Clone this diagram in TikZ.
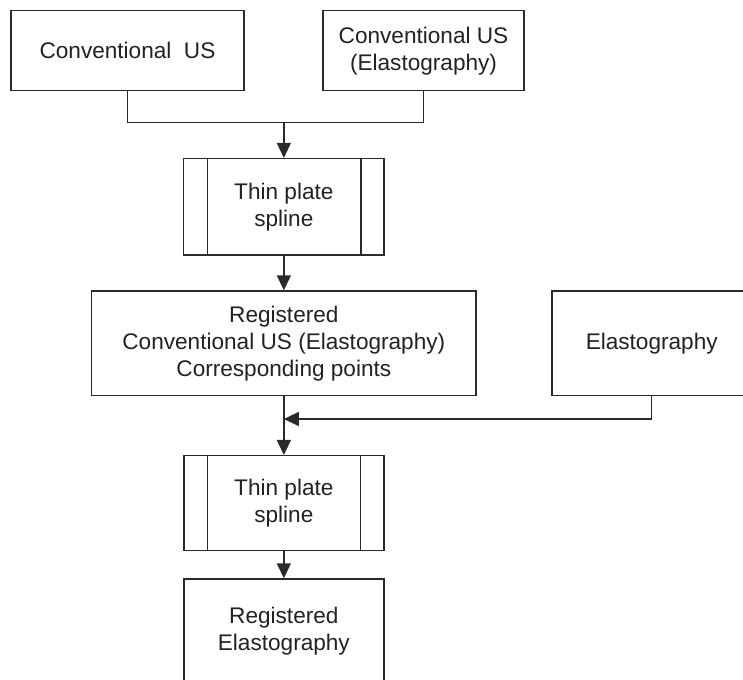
\documentclass[tikz,border=0pt]{standalone}
\usepackage{fontspec}
\setmainfont{Liberation Sans}
\usetikzlibrary{arrows.meta}
\definecolor{ln}{HTML}{2A2A2A}
\definecolor{tx}{HTML}{222222}
\begin{document}
\begin{tikzpicture}[x=1pt,y=-1pt,
  box/.style={draw=ln,line width=1.5pt,rectangle,inner sep=0pt,align=center,
    text=tx,font=\fontsize{22.6}{27}\selectfont},
  arr/.style={draw=ln,line width=1.5pt,-{Triangle[length=15pt,width=14pt]}},
  con/.style={draw=ln,line width=1.5pt}]
\useasboundingbox (0,0) rectangle (743,679);
\clip (0,0) rectangle (743,679);
\fill[white] (0,0) rectangle (743,679);
\node[box,minimum width=233pt,minimum height=80pt] (b1) at (127.5,50.7) {Conventional\ \ US};
\node[box,minimum width=201pt,minimum height=80pt] (b2) at (423.5,50.7) {Conventional US\\(Elastography)};
\node[box,minimum width=200.3pt,minimum height=96.3pt] (b3) at (283.85,206.8) {Thin plate\\spline};
\node[box,minimum width=384.3pt,minimum height=104.3pt] (b4) at (283.85,343.2) {Registered\\Conventional US (Elastography)\\Corresponding points};
\node[box,minimum width=199.4pt,minimum height=104.3pt] (b5) at (651.7,343.2) {Elastography};
\node[box,minimum width=200pt,minimum height=95pt] (b6) at (283.85,503.2) {Thin plate\\spline};
\node[box,minimum width=200pt,minimum height=104pt] (b7) at (283.85,631) {Registered\\Elastography};
\foreach \n in {b3,b6}{
  \draw[con] ([xshift=24.3pt]\n.north west) -- ([xshift=24.3pt]\n.south west);
  \draw[con] ([xshift=-24pt]\n.north east) -- ([xshift=-24pt]\n.south east);
}
\coordinate (j) at (283.85,122.7);
\coordinate (k) at (283.85,419);
\draw[con] (b1.south) |- (j) -| (b2.south);
\draw[arr] (j) -- (b3.north);
\draw[arr] (b3.south) -- (b4.north);
\draw[arr] (b4.south) -- (b6.north);
\draw[arr] (b5.south) |- (k);
\draw[arr] (b6.south) -- (b7.north);
\end{tikzpicture}
\end{document}
